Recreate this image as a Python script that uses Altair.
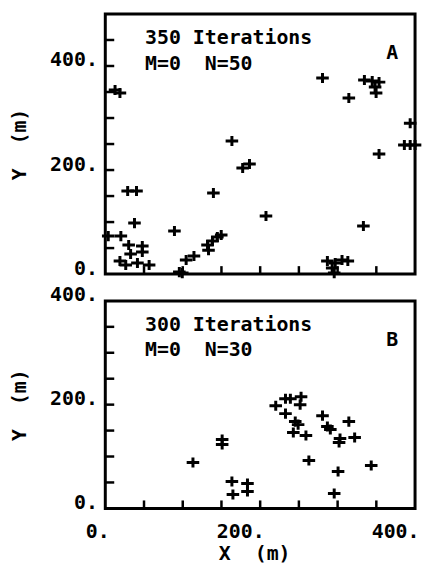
import altair as alt
import pandas as pd

# ---------------- data ----------------
# Panel A : 350 iterations, M=0, N=50
a_x = [12.6, 18.9, 280.5, 314.5, 334.6, 344.7, 353.5, 348.4, 349.7, 393.7,
       386.2, 393.7, 400.0, 163.5, 353.5, 177.4, 186.2, 28.9, 40.3, 139.6,
       37.7, 207.5, 333.3, 3.8, 20.1, 89.3, 132.0, 138.4, 144.7, 149.7,
       133.3, 104.4, 114.5, 95.6, 30.2, 47.8, 32.7, 47.8, 18.9, 26.4,
       41.5, 56.6, 286.8, 296.9, 305.7, 313.2, 293.0, 295.6, 99.4]
a_y = [353.8, 348.0, 377.0, 338.5, 373.0, 371.0, 369.0, 359.6, 348.0, 290.0,
       248.0, 248.0, 248.0, 255.8, 230.8, 203.8, 211.5, 159.6, 159.6, 155.8,
       98.0, 111.5, 92.3, 73.0, 73.0, 82.7, 55.8, 63.5, 71.2, 75.0,
       46.0, 26.9, 34.6, 3.8, 55.8, 53.8, 38.5, 42.3, 25.0, 17.3,
       21.2, 17.3, 25.0, 21.2, 26.9, 25.0, 11.5, 1.9, 1.9]

# Panel B : 300 iterations, M=0, N=30
b_x = [150.9, 150.9, 113.2, 163.5, 183.6, 164.8, 183.6, 220.1, 232.7, 239.0,
       252.8, 251.6, 232.7, 245.3, 242.8, 259.1, 249.0, 280.5, 286.8, 290.6,
       314.5, 303.1, 301.9, 322.0, 262.9, 300.6, 343.4, 295.6]
b_y = [132.7, 123.0, 88.5, 51.9, 48.0, 26.9, 32.7, 198.0, 211.5, 211.5,
       215.4, 200.0, 182.7, 167.3, 146.2, 140.4, 161.5, 178.8, 157.7, 151.9,
       167.3, 134.6, 126.9, 136.5, 92.3, 71.2, 82.7, 28.8]

NB = "\u00a0"
a_lines = ["350 Iterations", "M=0" + NB + NB + "N=50"]
b_lines = ["300 Iterations", "M=0" + NB + NB + "N=30"]
a_letter = "A"
b_letter = "B"
x_title = "X" + NB + NB + "(m)"
y_title = "Y" + NB + NB + "(m)"

x_label_values = [0, 200, 400]
y_label_values = [0, 200, 400]
x_minor_ticks = [50, 100, 150, 200, 250, 300, 350]
a_y_minor_ticks = [50, 100, 150, 200, 250, 300, 350, 400, 450]
b_y_minor_ticks = [50, 100, 150, 200, 250, 300, 350]

# ---------------- styling ----------------
FONT = "DejaVu Sans Mono"
FS = 20
W = 312
PLUS = "M-1,0L1,0M0,-0.8L0,0.8"


def text_layer(txt, px, py, align="left"):
    return alt.Chart(pd.DataFrame({"t": [txt]})).mark_text(
        font=FONT, fontSize=FS, fontWeight="bold", color="black",
        align=align, baseline="alphabetic"
    ).encode(text="t:N", x=alt.value(px), y=alt.value(py))


def panel(xs, ys, ymax, height, yticks, lines, letter, show_x):
    xscale = alt.Scale(domain=[0, 400], nice=False, zero=False)
    yscale = alt.Scale(domain=[0, ymax], nice=False, zero=False)
    common = dict(labelFont=FONT, labelFontSize=FS, labelFontWeight="bold",
                  labelColor="black", titleFont=FONT, titleFontSize=FS,
                  titleFontWeight="bold", titleColor="black",
                  ticks=False, tickSize=0, domain=False, grid=False,
                  labelExpr="datum.label + '.'", format="d",
                  labelFlush=False, labelOverlap=False)
    if show_x:
        xaxis = alt.Axis(values=x_label_values, labelAlign="right", labelOffset=4,
                         labelBaseline="alphabetic", labelPadding=29,
                         title=x_title, titleX=150, titleY=51,
                         titleAlign="center", titleBaseline="alphabetic",
                         **common)
    else:
        xaxis = None
    yaxis = alt.Axis(values=y_label_values, labelAlign="right",
                     labelBaseline="alphabetic", labelPadding=8,
                     title=y_title, titleAngle=270, titleX=-80,
                     titleY=height / 2, titleAlign="center",
                     titleBaseline="alphabetic", **common)

    pts = alt.Chart(pd.DataFrame({"x": xs, "y": ys})).mark_point(
        shape=PLUS, filled=False, stroke="black", strokeWidth=3,
        size=160, opacity=1
    ).encode(
        x=alt.X("x:Q", scale=xscale, axis=xaxis),
        y=alt.Y("y:Q", scale=yscale, axis=yaxis),
    )
    bt = alt.Chart(pd.DataFrame({"x": x_minor_ticks})).mark_rule(
        color="black", strokeWidth=2.5
    ).encode(
        x=alt.X("x:Q", scale=xscale, axis=xaxis),
        y=alt.value(height), y2=alt.value(height - 8),
    )
    lt = alt.Chart(pd.DataFrame({"y": yticks})).mark_rule(
        color="black", strokeWidth=2.5
    ).encode(
        y=alt.Y("y:Q", scale=yscale, axis=yaxis),
        x=alt.value(0), x2=alt.value(9),
    )
    t1 = text_layer(lines[0], 40, 30)
    t2 = text_layer(lines[1], 40, 56)
    t3 = text_layer(letter, 289, 45, align="center")
    return alt.layer(pts, bt, lt, t1, t2, t3).properties(width=W, height=height)


pa = panel(a_x, a_y, 500, 262, a_y_minor_ticks, a_lines, a_letter, False)
pb = panel(b_x, b_y, 400, 209, b_y_minor_ticks, b_lines, b_letter, True)

chart = alt.vconcat(pa, pb, spacing=27, bounds="flush").properties(
    padding={"left": 0, "top": 2, "right": -7, "bottom": -2},
    background="white",
).configure_view(stroke="black", strokeWidth=3, fill="white")

chart.save("out.html", embed_options={"renderer": "svg", "actions": False})
